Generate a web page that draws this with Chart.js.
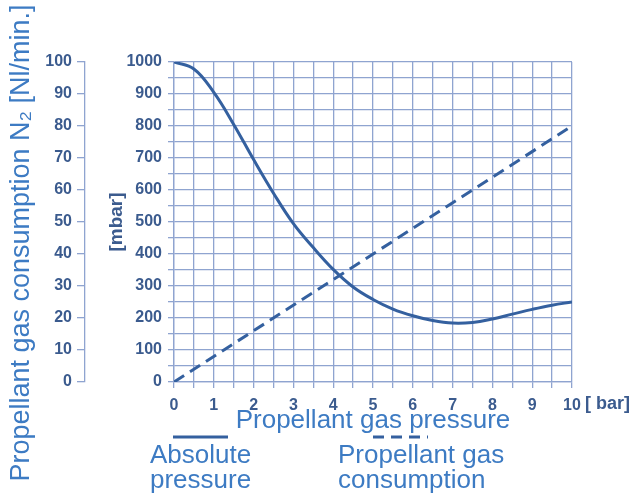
<!DOCTYPE html>
<html>
<head>
<meta charset="utf-8">
<script src="https://cdn.jsdelivr.net/npm/chart.js@4.4.1/dist/chart.umd.min.js"></script>
<style>
  html, body { margin: 0; padding: 0; background: #fff; }
  canvas { display: block; }
</style>
</head>
<body>
<canvas id="myChart" width="637" height="493"></canvas>
<script>
// values
var pressureBar = [0, 0.5, 1, 1.5, 2, 2.5, 3, 3.5, 4, 4.5, 5, 5.5, 6, 6.5, 7, 7.5, 8, 8.5, 9, 9.5, 10];
var absolutePressure = [1000, 978, 905, 805, 695, 590, 495, 420, 352, 297, 258, 228, 207, 192, 184, 186, 197, 212, 227, 240, 250];
var consumptionBar = [0, 10];
var gasConsumption = [0, 80];

var darkBlue = '#34609f';
var lightBlue = '#3d7bc3';
var tickBlue = '#3b5b8e';
var gridBlue = '#8fa4d0';
var sans = "'Liberation Sans', Arial, sans-serif";

function toPoints(xs, ys) {
  return xs.map(function (x, i) { return { x: x, y: ys[i] } });
}

var extraText = {
  id: 'extraText',
  afterDraw: function (chart) {
    var ctx = chart.ctx;
    ctx.save();
    // big rotated title of the outer axis
    ctx.translate(22, 243);
    ctx.rotate(-Math.PI / 2);
    ctx.fillStyle = lightBlue;
    ctx.font = '27px ' + sans;
    ctx.textAlign = 'center';
    ctx.textBaseline = 'middle';
    ctx.fillText('Propellant gas consumption N\u2082 [Nl/min.]', 0, 0);
    ctx.restore();

    ctx.save();
    ctx.fillStyle = tickBlue;
    ctx.font = 'bold 18px ' + sans;
    ctx.textBaseline = 'middle';
    ctx.fillText('[ bar]', 585, 404);

    // legend
    ctx.strokeStyle = darkBlue;
    ctx.lineWidth = 3;
    ctx.beginPath();
    ctx.moveTo(173, 437);
    ctx.lineTo(228, 437);
    ctx.stroke();
    ctx.setLineDash([11, 7]);
    ctx.beginPath();
    ctx.moveTo(373, 437);
    ctx.lineTo(428, 437);
    ctx.stroke();

    ctx.fillStyle = lightBlue;
    ctx.font = '26px ' + sans;
    ctx.textBaseline = 'alphabetic';
    ctx.fillText('Absolute', 150, 463);
    ctx.fillText('pressure', 150, 488);
    ctx.fillText('Propellant gas', 338, 463);
    ctx.fillText('consumption', 338, 488);
    ctx.restore();
  }
};

new Chart(document.getElementById('myChart'), {
  type: 'line',
  data: {
    datasets: [
      {
        label: 'Absolute pressure',
        data: toPoints(pressureBar, absolutePressure),
        borderColor: darkBlue,
        borderWidth: 3,
        pointRadius: 0,
        tension: 0.4,
        yAxisID: 'y'
      },
      {
        label: 'Propellant gas consumption',
        data: toPoints(consumptionBar, gasConsumption),
        borderColor: darkBlue,
        borderWidth: 3,
        borderDash: [12, 7],
        pointRadius: 0,
        yAxisID: 'y2'
      }
    ]
  },
  options: {
    responsive: false,
    animation: false,
    layout: {
      padding: { top: 62, right: 65, bottom: 51, left: 35 }
    },
    plugins: {
      legend: { display: false },
      tooltip: { enabled: false }
    },
    scales: {
      x: {
        type: 'linear',
        min: 0,
        max: 10,
        afterFit: function (s) { s.height = 60 },
        grid: { color: gridBlue, lineWidth: 1.3, tickLength: 6 },
        border: { color: gridBlue, width: 1.3 },
        ticks: {
          stepSize: 0.5,
          autoSkip: false,
          maxRotation: 0,
          padding: 8,
          color: tickBlue,
          font: { family: sans, size: 16, weight: 'bold' },
          callback: function (v) { return Number.isInteger(v) ? v : '' }
        },
        title: {
          display: true,
          text: 'Propellant gas pressure',
          color: lightBlue,
          font: { family: sans, size: 26 },
          padding: { top: 0, bottom: 6 }
        }
      },
      y: {
        position: 'left',
        weight: 1,
        min: 0,
        max: 1000,
        afterFit: function (s) { s.width = 89 },
        grid: { color: gridBlue, lineWidth: 1.3, tickLength: 6 },
        border: { color: gridBlue, width: 1.3 },
        ticks: {
          stepSize: 50,
          autoSkip: false,
          padding: 6,
          color: tickBlue,
          font: { family: sans, size: 16, weight: 'bold' },
          callback: function (v) { return v % 100 === 0 ? v : '' }
        },
        title: {
          display: true,
          text: '[mbar]',
          color: tickBlue,
          font: { family: sans, size: 19, weight: 'bold' },
          padding: { top: 20, bottom: 0 }
        }
      },
      y2: {
        position: 'left',
        weight: 10,
        min: 0,
        max: 100,
        afterFit: function (s) { s.width = 50 },
        grid: { drawOnChartArea: false, color: gridBlue, lineWidth: 1.3, tickLength: 8 },
        border: { color: gridBlue, width: 1.3 },
        ticks: {
          stepSize: 10,
          padding: 5,
          color: tickBlue,
          font: { family: sans, size: 16, weight: 'bold' }
        }
      }
    }
  },
  plugins: [extraText]
});
</script>
</body>
</html>
